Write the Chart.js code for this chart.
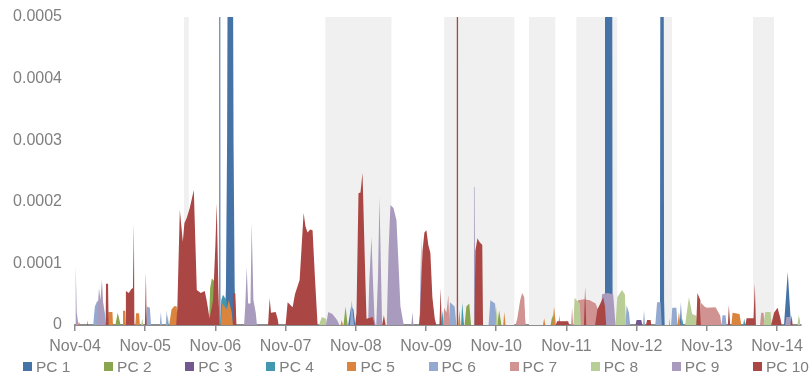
<!DOCTYPE html>
<html>
<head>
<meta charset="utf-8">
<title>PC loadings</title>
<script src="https://cdn.jsdelivr.net/npm/chart.js@4.4.1/dist/chart.umd.min.js"></script>
<style>
  html, body { margin: 0; padding: 0; background: #fff; }
  #wrap { position: relative; width: 809px; height: 372px; overflow: hidden; }
  #myChart { position: absolute; left: 0; top: 0; }
  #legend { position: absolute; left: 0; top: 358px; width: 809px; height: 17px;
            font: 15.5px 'Liberation Sans', Arial, sans-serif; color: #7f7f7f; }
  #legend .item { position: absolute; top: 0; line-height: 17px; white-space: nowrap; padding-left: 13px; }
  #legend .sw { position: absolute; left: 0; top: 4px; width: 9px; height: 9px; }
</style>
</head>
<body>
<div id="wrap">
  <canvas id="myChart" width="809" height="372"></canvas>
  <div id="legend"></div>
</div>
<script>
// x values are months since Nov-04
const tickLabels = ['Nov-04', 'Nov-05', 'Nov-06', 'Nov-07', 'Nov-08', 'Nov-09',
                    'Nov-10', 'Nov-11', 'Nov-12', 'Nov-13', 'Nov-14'];
const seriesNames = ['PC 1', 'PC 2', 'PC 3', 'PC 4', 'PC 5', 'PC 6', 'PC 7', 'PC 8', 'PC 9', 'PC 10'];
const colors = ['#4572A7', '#89A54E', '#71588F', '#4198AF', '#DB843D',
                '#93A9CF', '#D19392', '#B9CD96', '#A99BBD', '#AA4643'];

// shaded periods
const bandStart = [18.6, 42.8, 63.1, 77.6, 85.7, 100.5, 115.9];
const bandEnd = [19.45, 54.1, 75.1, 82.1, 92.7, 102.05, 119.5];

const pc1 = [[2.0,0],[2.05,0.000008],[2.2,0],
  [24.62,0],[24.66,0.0009],[24.82,0.0009],[24.86,0],
  [25.6,0],[25.8,0.00006],[26.0,0.0003],[26.2,0.0009],[26.9,0.0009],[27.1,0.0003],[27.3,0.00006],[27.5,0],
  [46.7,0],[47.2,0.00003],[47.6,0.000025],[47.9,0],
  [90.5,0],[90.6,0.0009],[91.8,0.0009],[91.9,0],
  [99.9,0],[100.0,0.00004],[100.1,0.0009],[100.6,0.0009],[100.7,0.00004],[100.8,0],
  [103.4,0],[103.58,0.000037],[103.75,0],
  [121.2,0],[121.84,0.000086],[122.4,0]];

const pc2 = [[6.9,0],[7.3,0.00002],[7.8,0],
  [22.9,0],[23.1,0.00006],[23.4,0.000076],[23.9,0.00007],[24.1,0],
  [45.9,0],[46.25,0.00003],[46.6,0],
  [66.6,0],[66.9,0.00003],[67.4,0.000035],[67.7,0],
  [72.2,0],[72.5,0.000024],[72.9,0],
  [81.3,0],[81.6,0.000016],[81.9,0]];

const pc3 = [[95.8,0],[96.0,0.000008],[96.8,0.000008],[97.0,0]];

const pc4 = [[15.7,0],[15.87,0.000016],[16.0,0],
  [24.8,0],[25.0,0.00004],[25.3,0.000049],[25.9,0.00004],[26.1,0],
  [62.6,0],[62.8,0.000024],[63.0,0],
  [66.0,0],[66.2,0.000036],[66.5,0],
  [103.6,0],[103.8,0.00001],[104.0,0],
  [114.2,0],[114.4,0.00001],[114.6,0]];

const pc5 = [[0.5,0],[0.68,0.000005],[0.9,0],
  [5.6,0],[5.7,0.000021],[6.4,0.000021],[6.5,0],
  [8.1,0],[8.2,0.000023],[8.6,0.000023],[8.7,0],
  [10.3,0],[10.45,0.000019],[10.95,0.000019],[11.1,0],
  [16.1,0],[16.5,0.000025],[17.0,0.000031],[17.4,0.00003],[17.5,0],
  [24.9,0],[25.2,0.000035],[25.9,0.000025],[26.3,0.00004],[26.8,0.00002],[27.0,0],
  [45.4,0],[45.6,0.000008],[45.8,0],
  [65.5,0],[65.7,0.000024],[65.9,0],
  [73.2,0],[73.38,0.000021],[73.6,0],
  [76.6,0],[76.8,0.000028],[77.0,0],
  [80.0,0],[80.2,0.000011],[80.4,0],
  [81.6,0],[81.9,0.00003],[82.2,0],
  [101.4,0],[101.54,0.000011],[101.7,0],
  [103.0,0],[103.24,0.000021],[103.5,0],
  [112.2,0],[112.4,0.00002],[113.6,0.000018],[113.9,0]];

const pc6 = [[3.1,0],[3.4,0.00003],[3.8,0.000039],[4.8,0.000036],[5.1,0.00002],[5.3,0],
  [12.1,0],[12.3,0.00003],[12.8,0.000028],[13.0,0],
  [14.5,0],[14.68,0.000021],[14.85,0],
  [15.5,0],[15.7,0.000024],[15.85,0],
  [47.0,0],[47.3,0.00004],[47.7,0],
  [63.9,0],[64.1,0.000037],[64.9,0.00003],[65.2,0],
  [70.7,0],[71.0,0.00004],[71.8,0.000035],[72.2,0],
  [94.1,0],[94.3,0.000032],[94.7,0.00002],[94.9,0],
  [97.1,0],[97.27,0.000024],[97.45,0],
  [99.2,0],[99.5,0.000037],[100.1,0.000037],[100.3,0],
  [101.9,0],[102.1,0.000028],[102.8,0.000028],[103.0,0],
  [110.5,0],[110.7,0.000016],[111.2,0.000016],[111.4,0]];

const pc7 = [[62.9,0],[63.1,0.000028],[63.5,0.00002],[63.82,0.000049],[64.0,0],
  [75.3,0],[75.6,0.00001],[76.1,0.00004],[76.45,0.000052],[76.8,0.000045],[77.0,0],
  [82.6,0],[82.8,0.000016],[83.0,0],
  [83.8,0],[83.95,0.000008],[84.1,0],
  [84.8,0],[84.98,0.000029],[85.15,0],
  [85.7,0],[86.0,0.00004],[87.0,0.000042],[88.0,0.00004],[89.0,0.000035],[89.6,0.00002],[89.8,0],
  [106.9,0],[107.0,0.000036],[107.6,0.00003],[108.0,0.000028],[109.5,0.000029],[110.3,0.000015],[110.5,0],
  [117.1,0],[117.3,0.00002],[117.7,0.00002],[117.9,0]];

const pc8 = [[11.3,0],[11.5,0.00001],[11.7,0],
  [41.7,0],[42.2,0.000013],[42.9,0.00001],[43.1,0],
  [71.9,0],[72.1,0.00003],[72.3,0],
  [85.2,0],[85.4,0.000044],[86.3,0.000035],[86.5,0],
  [92.4,0],[92.7,0.000045],[93.5,0.000057],[94.0,0.00005],[94.2,0],
  [104.3,0],[104.5,0.000015],[104.95,0.000045],[105.5,0.000018],[106.2,0.000015],[106.4,0],
  [117.7,0],[118.0,0.000021],[118.9,0.000021],[119.1,0],
  [123.5,0],[123.72,0.000016],[124,0.000005]];

const pc9 = [[0,0],[0.12,0.000097],[0.3,0.00002],[0.6,0],
  [3.7,0],[4.1,0.00006],[4.35,0.00004],[4.6,0.000073],[4.9,0.00002],[5.1,0],
  [28.9,0],[29.1,0.00003],[29.35,0.000094],[29.6,0.000035],[30.0,0.000035],[30.2,0.000166],[30.5,0.00004],[30.9,0.00002],[31.1,0],
  [42.9,0],[43.3,0.000021],[44.0,0.000018],[44.8,0.000008],[45.2,0],
  [50.1,0],[50.3,0.00007],[50.68,0.000143],[50.9,0.00008],[51.2,0.00001],[51.4,0],
  [51.5,0],[51.8,0.00008],[52.05,0.000208],[52.3,0.00009],[52.5,0],
  [53.3,0],[53.6,0.00012],[53.92,0.000195],[54.44,0.00019],[54.95,0.00017],[55.3,0.0001],[55.63,0.00003],[56.2,0],
  [57.5,0],[57.68,0.000021],[57.85,0],
  [58.9,0],[59.2,0.000146],[59.4,0],
  [68.05,0],[68.2,0.000224],[68.3,0.000224],[68.45,0],
  [89.8,0],[90.1,0.00005],[91.0,0.000052],[92.0,0.00005],[92.4,0],
  [121.4,0],[121.6,0.000013],[122.2,0.000013],[122.4,0]];

const pc10 = [[5.2,0],[5.3,0.000067],[5.65,0.000067],[5.75,0],
  [8.6,0],[8.7,0.000055],[9.2,0.000052],[9.6,0.000058],[9.9,0.00006],[10.07,0.000166],[10.15,0],
  [11.95,0],[12.12,0.000086],[12.25,0],
  [17.3,0],[17.5,0.00003],[17.92,0.000187],[18.43,0.000135],[18.7,0.000165],[19.11,0.000174],[19.62,0.00019],
  [20.31,0.000219],[20.82,0.000057],[21.5,0.000052],[22.18,0.000055],[22.5,0.00004],[22.7,0.000029],[23.0,0.00001],
  [23.2,0.00002],[23.6,0.00004],[24.0,0.00013],[24.23,0.000198],[24.5,0.00006],[24.7,0],
  [26.9,0],[27.0,0.00005],[27.4,0.000052],[27.6,0],
  [33.0,0],[33.28,0.000044],[33.5,0.00002],[34.3,0.000021],[34.64,0.00001],[34.8,0],
  [36.0,0],[36.35,0.000037],[37.2,0.000029],[37.6,0.00005],[38.4,0.000073],[38.74,0.000127],[39.08,0.000182],
  [39.4,0.00016],[39.76,0.00015],[40.2,0.000155],[40.61,0.000154],[41.0,0.00008],[41.47,0],
  [47.9,0],[48.12,0.00002],[48.46,0.000214],[48.8,0.000215],[49.15,0.000247],[49.5,0.00012],[49.83,0.00001],[50.9,0.000013],[51.2,0],
  [52.5,0],[52.8,0.000016],[53.1,0],
  [58.8,0],[59.0,0.00002],[59.4,0.00012],[59.73,0.00015],[60.07,0.000154],[60.4,0.00013],[60.75,0.000117],[61.09,0.000045],[61.5,0.00001],[61.77,0],
  [62.3,0],[62.5,0.00006],[62.7,0],
  [65.25,0],[65.26,0.0009],[65.48,0.0009],[65.49,0],
  [68.3,0],[68.43,0.00012],[68.8,0.000141],[69.11,0.000135],[69.62,0.00013],[69.75,0],
  [82.2,0],[82.4,0.000006],[84.3,0.000006],[84.5,0],
  [87.0,0],[87.2,0.000062],[87.4,0],
  [88.9,0],[89.3,0.000025],[89.9,0.000037],[90.3,0.000045],[90.6,0.00003],[90.8,0],
  [97.6,0],[97.8,0.000008],[98.4,0.000008],[98.5,0],
  [106.2,0],[106.4,0.000052],[106.9,0.00004],[107.0,0],
  [111.6,0],[111.77,0.000032],[112.0,0],
  [114.6,0],[114.8,0.000011],[116.0,0.000011],[116.21,0.000068],[116.4,0],
  [119.0,0],[119.5,0.00002],[120.1,0.000028],[120.6,0.00001],[120.8,0],
  [122.3,0],[122.5,0.000016],[122.7,0]];

const seriesData = [pc1, pc2, pc3, pc4, pc5, pc6, pc7, pc8, pc9, pc10];

const yMax = 0.0005;
const bandPoints = [];
bandStart.forEach((s, i) => {
  bandPoints.push([s, 0], [s, yMax], [bandEnd[i], yMax], [bandEnd[i], 0]);
});

const datasets = seriesData.map((d, i) => ({
  label: seriesNames[i],
  data: d,
  backgroundColor: colors[i],
  borderColor: 'rgba(0,0,0,0)',
  borderWidth: 0,
  pointRadius: 0,
  fill: 'origin',
  tension: 0,
  order: 10 - i   // later series drawn in front
}));
datasets.push({
  label: '',
  data: bandPoints,
  backgroundColor: '#F0F0F0',
  borderColor: 'rgba(0,0,0,0)',
  borderWidth: 0,
  pointRadius: 0,
  fill: 'origin',
  order: 100
});

const htmlLegend = {
  id: 'htmlLegend',
  afterUpdate(chart) {
    const box = document.getElementById('legend');
    box.innerHTML = '';
    chart.data.datasets.forEach((ds, i) => {
      if (!ds.label) return;
      const item = document.createElement('div');
      item.className = 'item';
      item.style.left = (23 + 81.1 * i) + 'px';
      const sw = document.createElement('span');
      sw.className = 'sw';
      sw.style.background = ds.backgroundColor;
      const tx = document.createElement('span');
      tx.textContent = ds.label;
      item.append(sw, tx);
      box.append(item);
    });
  }
};

const tickFont = { family: "'Liberation Sans', Arial, sans-serif", size: 16 };

new Chart(document.getElementById('myChart'), {
  type: 'line',
  data: { datasets },
  plugins: [htmlLegend],
  options: {
    responsive: false,
    animation: false,
    layout: { padding: { left: 13, right: 7, top: 17, bottom: 17 } },
    plugins: { legend: { display: false }, tooltip: { enabled: false } },
    scales: {
      x: {
        type: 'linear',
        min: 0,
        max: 124,
        afterBuildTicks: scale => {
          scale.ticks = tickLabels.map((_, i) => ({ value: i * 12 }));
        },
        afterFit: scale => { scale.height = 30; },
        ticks: {
          autoSkip: false,
          maxRotation: 0,
          padding: 6,
          color: '#7f7f7f',
          font: tickFont,
          callback: v => tickLabels[Math.round(v / 12)]
        },
        grid: { display: true, drawOnChartArea: false, drawTicks: true, tickLength: 6, color: '#8c8c8c', lineWidth: 1.5 },
        border: { display: true, color: '#8c8c8c', width: 2 }
      },
      y: {
        min: 0,
        max: yMax,
        afterFit: scale => {
          scale.width = 62;
          scale.paddingTop = 0;
          scale.paddingBottom = 0;
        },
        ticks: {
          stepSize: 0.0001,
          padding: 13,
          color: '#7f7f7f',
          font: tickFont,
          callback: v => v === 0 ? '0' : v.toFixed(4)
        },
        grid: { display: false, drawTicks: false },
        border: { display: false }
      }
    }
  }
});
</script>
</body>
</html>
